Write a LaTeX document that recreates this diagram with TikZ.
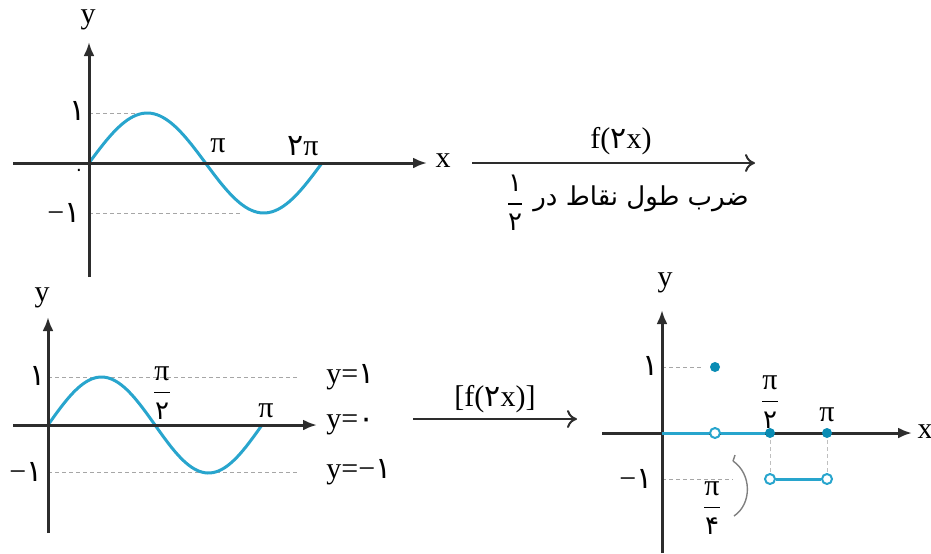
\documentclass[tikz,border=0pt]{standalone}
\usepackage{fontspec}
\usepackage{amsmath}
\setmainfont{Liberation Serif}
\newfontfamily\pf[Script=Arabic]{DejaVu Sans}
\TeXXeTstate=1
\usetikzlibrary{arrows.meta}
\definecolor{curveblue}{RGB}{40,165,205}
\definecolor{dotblue}{RGB}{10,140,180}
\definecolor{axisgray}{RGB}{45,45,45}
\newcommand{\fa}[1]{{\pf #1}}
\tikzset{
 axis/.style={draw=axisgray, line width=1.5pt, -{Latex[length=7pt,width=5.5pt]}},
 curve/.style={draw=curveblue, line width=1.5pt},
 guide/.style={draw=gray!70, line width=0.4pt, dash pattern=on 2pt off 1.5pt},
 lbl/.style={font=\fontsize{15}{16}\selectfont, inner sep=1pt},
 maparrow/.style={draw=axisgray, line width=1pt, -{To[length=5pt,width=9pt]}},
 fdot/.style={circle, fill=dotblue, inner sep=0pt, minimum size=5pt},
 odot/.style={circle, draw=curveblue, fill=white, line width=1pt, inner sep=0pt, minimum size=5pt},
}
\begin{document}
\begin{tikzpicture}[x=0.5pt,y=-0.5pt]
\path[use as bounding box] (0,0) rectangle (931,553);
% ---------- top graph ----------
\coordinate (A1l) at (13,163); \coordinate (A1r) at (427,163);
\coordinate (A1b) at (89,277); \coordinate (A1t) at (89,42);
\draw[guide] (89,113) -- (135,113);
\draw[guide] (89,213) -- (242,213);
\draw[curve] plot[domain=0:360,samples=80] ({89+0.64722*\x},{163-50*sin(\x)});
\draw[axis] (A1l) -- (A1r);
\draw[axis] (A1b) -- (A1t);
\node[lbl] (y1) at (88,20) {y};
\node[lbl] (x1) at (443,161) {x};
\node[lbl] (one1) at (78,111) {\fa{۱}};
\node[lbl] (mone1) at (64,213) {−\fa{۱}};
\node[lbl,font=\fontsize{9}{10}\selectfont] (z1) at (79,172) {\fa{۰}};
\node[lbl] (pi1) at (218,146) {π};
\node[lbl] (tpi1) at (303,146) {\fa{۲}π};
% ---------- arrow 1 ----------
\coordinate (B1s) at (472,163); \coordinate (B1e) at (755,163);
\draw[maparrow] (B1s) -- (B1e);
\node[lbl] (fl1) at (621,141) {f(\fa{۲}x)};
\node[lbl,font=\fontsize{13}{14}\selectfont] (ar1) at (641,199) {\pf\beginR ضرب طول نقاط در\endR};
\node[lbl] (fr1) at (515,203) {$\dfrac{\mbox{\fontsize{13}{14}\pf ۱}}{\mbox{\fontsize{13}{14}\pf ۲}}$};
% ---------- bottom left graph ----------
\coordinate (A2l) at (13,425); \coordinate (A2r) at (317,425);
\coordinate (A2b) at (48,533); \coordinate (A2t) at (48,317);
\draw[guide] (48,377) -- (300,377);
\draw[guide] (48,472) -- (300,472);
\draw[curve] plot[domain=0:360,samples=80] ({48+0.59444*\x},{425-48*sin(\x)});
\draw[axis] (A2l) -- (A2r);
\draw[axis] (A2b) -- (A2t);
\node[lbl] (y2) at (42,298) {y};
\node[lbl] (one2) at (38,376) {\fa{۱}};
\node[lbl] (mone2) at (26,472) {−\fa{۱}};
\node[lbl] (pihalf2) at (162,393) {$\dfrac{\mbox{π}}{\mbox{\fontsize{13}{14}\pf ۲}}$};
\node[lbl] (pi2) at (266,411) {π};
\node[lbl,anchor=west] (ya) at (324,377) {y=\fa{۱}};
\node[lbl,anchor=west] (yb) at (324,425) {y=\fa{۰}};
\node[lbl,anchor=west] (yc) at (324,472) {y=−\fa{۱}};
% ---------- arrow 2 ----------
\coordinate (B2s) at (413,419); \coordinate (B2e) at (577,419);
\draw[maparrow] (B2s) -- (B2e);
\node[lbl] (fl2) at (495,399) {[f(\fa{۲}x)]};
% ---------- bottom right graph ----------
\coordinate (A3l) at (602,433); \coordinate (A3r) at (912,433);
\coordinate (A3b) at (662,553); \coordinate (A3t) at (662,310);
\draw[guide] (662,367) -- (703,367);
\draw[guide] (662,479) -- (733,479);
\draw[guide,draw=gray!50] (770,433) -- (770,479);
\draw[guide,draw=gray!50] (827,433) -- (827,479);
\draw[axis] (A3l) -- (A3r);
\draw[axis] (A3b) -- (A3t);
\coordinate (P0) at (662,433);
\node[odot] (o1) at (715,433) {};
\node[fdot] (d1) at (715,367) {};
\node[fdot] (d2) at (770,433) {};
\node[fdot] (d3) at (827,433) {};
\node[odot] (o2) at (770,479) {};
\node[odot] (o3) at (827,479) {};
\draw[curve] (P0) -- (o1);
\draw[curve] (o1) -- (d2);
\draw[curve] (o2) -- (o3);
\node[lbl] (y3) at (665,283) {y};
\node[lbl] (x3) at (925,432) {x};
\node[lbl] (one3) at (651,366) {\fa{۱}};
\node[lbl] (mone3) at (636,479) {−\fa{۱}};
\node[lbl] (pihalf3) at (770,402) {$\dfrac{\mbox{π}}{\mbox{\fontsize{13}{14}\pf ۲}}$};
\node[lbl] (pi3) at (827,415) {π};
\node[lbl] (piq3) at (712,508) {$\dfrac{\mbox{π}}{\mbox{\fontsize{13}{14}\pf ۴}}$};
\coordinate (C1) at (733,461); \coordinate (C2) at (734,516);
\draw[gray, line width=0.7pt] (C1) .. controls (752,474) and (752,504) .. (C2);
\draw[gray, line width=0.7pt] (C1) -- ++(2,-6);
\end{tikzpicture}
\end{document}
